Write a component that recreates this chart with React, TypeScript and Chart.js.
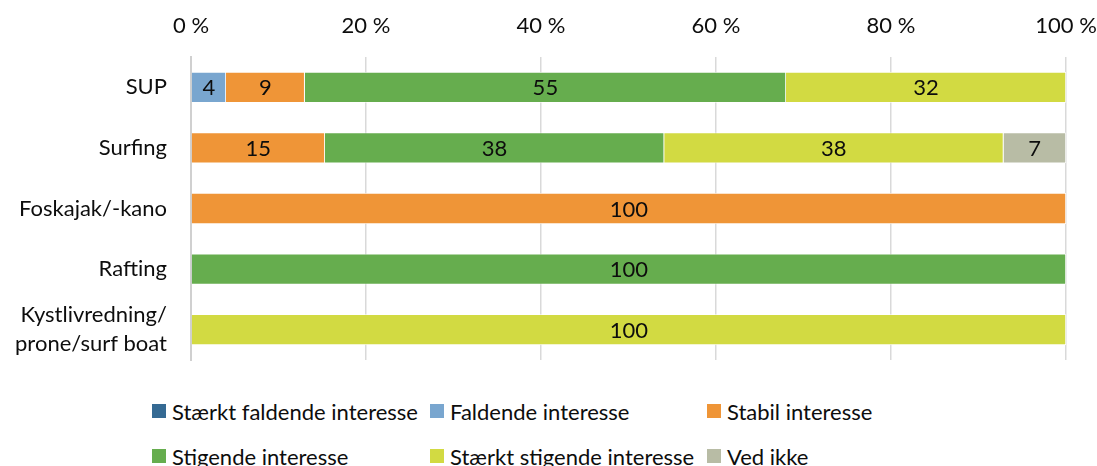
import React, { useEffect, useRef } from "react";
import { Chart, registerables } from "chart.js";

Chart.register(...registerables);

const categories: (string | string[])[] = [
  "SUP",
  "Surfing",
  "Foskajak/-kano",
  "Rafting",
  ["Kystlivredning/", "prone/surf boat"],
];

const seriesNames = [
  "Stærkt faldende interesse",
  "Faldende interesse",
  "Stabil interesse",
  "Stigende interesse",
  "Stærkt stigende interesse",
  "Ved ikke",
];

const staerktFaldende = [0, 0, 0, 0, 0];
const faldende = [4, 0, 0, 0, 0];
const stabil = [9, 15, 100, 0, 0];
const stigende = [55, 38, 0, 100, 0];
const staerktStigende = [32, 38, 0, 0, 100];
const vedIkke = [0, 7, 0, 0, 0];

const colors = ["#356a93", "#79a6cf", "#ef9537", "#66ad4e", "#d2da42", "#b8bca5"];

const tickLabels = ["0 %", "20 %", "40 %", "60 %", "80 %", "100 %"];

const FONT = "Lato, 'Open Sans', sans-serif";
const FS = 22;
const TEXT = "#0d0d0d";

export default function App() {
  const ref = useRef<HTMLCanvasElement | null>(null);

  useEffect(() => {
    document.body.style.margin = "0";
    const raw = [staerktFaldende, faldende, stabil, stigende, staerktStigende, vedIkke];
    const rowSums = categories.map((_, i) => raw.reduce((s, arr) => s + arr[i], 0));
    const datasets = raw.map((arr, k) => ({
      label: seriesNames[k],
      data: arr.map((v, i) => (v / rowSums[i]) * 100),
      raw: arr,
      backgroundColor: colors[k],
      borderColor: "#ffffff",
      borderWidth: 0.8,
      barPercentage: 0.51,
      categoryPercentage: 1,
    }));

    const labelPlugin = {
      id: "segLabels",
      afterDatasetsDraw(chart: any) {
        const ctx = chart.ctx;
        ctx.save();
        ctx.font = `${FS}px ${FONT}`;
        ctx.fillStyle = TEXT;
        ctx.textAlign = "center";
        ctx.textBaseline = "middle";
        chart.data.datasets.forEach((ds: any, di: number) => {
          const meta = chart.getDatasetMeta(di);
          meta.data.forEach((el: any, i: number) => {
            const v = ds.raw[i];
            if (!v) return;
            const x = (el.x + el.base) / 2;
            ctx.fillText(String(v), x, el.y + 1);
          });
        });
        ctx.restore();
      },
    };

    const zeroPad = (s: any) => {
      s.paddingLeft = 0;
      s.paddingRight = 0;
      s.paddingTop = 0;
      s.paddingBottom = 0;
    };

    const chart = new Chart(ref.current as HTMLCanvasElement, {
      type: "bar",
      data: { labels: categories, datasets: datasets as any },
      options: {
        indexAxis: "y",
        animation: false,
        responsive: false,
        maintainAspectRatio: false,
        layout: { padding: { left: 0, right: 31, top: 0, bottom: 1 } },
        plugins: { legend: { display: false }, tooltip: { enabled: false } },
        scales: {
          x: {
            position: "top",
            stacked: true,
            min: 0,
            max: 100,
            afterFit: (s: any) => {
              s.height = 57;
              zeroPad(s);
            },
            grid: { color: "#d9d9d9", lineWidth: 1.5, drawTicks: false },
            border: { display: false },
            ticks: {
              stepSize: 20,
              padding: 18,
              maxRotation: 0,
              color: TEXT,
              font: { family: FONT, size: FS },
              callback: (v: any) => tickLabels[Math.round(Number(v) / 20)],
            },
          },
          y: {
            stacked: true,
            afterFit: (s: any) => {
              s.width = 191;
              zeroPad(s);
            },
            grid: { display: false, drawTicks: false },
            border: { display: true, color: "#d0d0d0", width: 2 },
            ticks: {
              autoSkip: false,
              padding: 24,
              color: TEXT,
              font: { family: FONT, size: FS, lineHeight: 1.3 },
            },
          },
        },
      },
      plugins: [labelPlugin],
    });
    return () => chart.destroy();
  }, []);

  const legendCols = [152, 430, 707];
  const legendRows = [405, 450];

  return (
    <div style={{ position: "relative", width: 1097, height: 466, background: "#fff", overflow: "hidden" }}>
      <canvas ref={ref} width={1097} height={361} style={{ position: "absolute", left: 0, top: 0 }} />
      {seriesNames.map((name, k) => (
        <div
          key={name}
          style={{
            position: "absolute",
            left: legendCols[k % 3],
            top: legendRows[Math.floor(k / 3)] - 8,
            height: 28,
            display: "flex",
            alignItems: "center",
            fontFamily: FONT,
            fontSize: FS,
            color: TEXT,
            whiteSpace: "nowrap",
          }}
        >
          <span style={{ display: "inline-block", width: 14, height: 14, background: colors[k], marginRight: 6 }} />
          <span>{name}</span>
        </div>
      ))}
    </div>
  );
}
